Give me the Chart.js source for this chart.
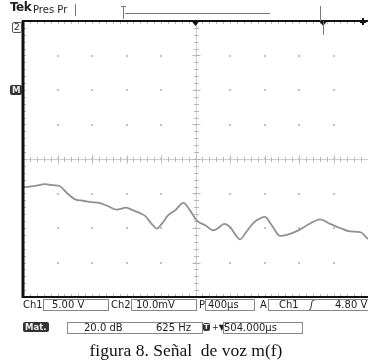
<!DOCTYPE html>
<html>
<head>
<meta charset="utf-8">
<script src="https://cdn.jsdelivr.net/npm/chart.js@4.4.0/dist/chart.umd.min.js"></script>
<style>
    html, body { margin: 0; padding: 0; background: #fff; }
    #wrap { position: relative; width: 368px; height: 362px; overflow: hidden;
            font-family: 'DejaVu Sans', sans-serif; color: #1e1e1e; }
    #scope { position: absolute; left: 0; top: 0; }
    .lbl { position: absolute; font-size: 10px; line-height: 11px; white-space: nowrap; }
    .box { position: absolute; border: 1px solid #888; height: 10px; }
    .dark { position: absolute; background: #333; color: #eee; font-size: 8.5px; font-weight: bold;
            line-height: 10px; padding: 0 2px; border-radius: 2px; }
    #caption { position: absolute; left: 0; width: 372px; top: 340px; text-align: center;
               font-family: 'Liberation Serif', serif; font-size: 17.5px; color: #111; }
</style>
</head>
<body>
<div id="wrap">
    <canvas id="scope" width="368" height="362"></canvas>

    <!-- header -->
    <div class="lbl" style="left:10px; top:2px; font-weight:bold; font-size:12px; letter-spacing:-0.5px;">Tek</div>
    <div class="lbl" style="left:33px; top:4px;">Pres Pr</div>
    <div class="lbl" style="left:12px; top:22px; font-size:9px; border:1px solid #555; border-radius:2px; padding:0 1px; line-height:9px;">2</div>
    <div class="dark" style="left:10px; top:85px;">M</div>

    <!-- status row 1 -->
    <div class="lbl" style="left:23px; top:299px;">Ch1</div>
    <div class="box" style="left:43px; top:299px; width:64px;"></div>
    <div class="lbl" style="left:52px; top:299px;">5.00 V</div>
    <div class="lbl" style="left:111px; top:299px;">Ch2</div>
    <div class="box" style="left:131px; top:299px; width:64px;"></div>
    <div class="lbl" style="left:136px; top:299px;">10.0mV</div>
    <div class="lbl" style="left:199px; top:299px;">P</div>
    <div class="box" style="left:205px; top:299px; width:48px;"></div>
    <div class="lbl" style="left:208px; top:299px;">400µs</div>
    <div class="lbl" style="left:260px; top:299px;">A</div>
    <div class="box" style="left:268px; top:299px; width:110px;"></div>
    <div class="lbl" style="left:279px; top:299px;">Ch1</div>
    <div class="lbl" style="left:310px; top:299px; font-style:italic;">&#x0283;</div>
    <div class="lbl" style="left:335px; top:299px;">4.80 V</div>

    <!-- status row 2 -->
    <div class="dark" style="left:23px; top:322px;">Mat.</div>
    <div class="box" style="left:67px; top:322px; width:134px;"></div>
    <div class="lbl" style="left:84px; top:322px;">20.0 dB</div>
    <div class="lbl" style="left:156px; top:322px;">625 Hz</div>
    <div class="dark" style="left:203px; top:323px; font-size:7px; line-height:8px; padding:0 1px;">T</div>
    <div class="lbl" style="left:212px; top:322px; font-size:8px;">+&#x25BC;</div>
    <div class="box" style="left:223px; top:322px; width:78px;"></div>
    <div class="lbl" style="left:224px; top:322px;">504.000µs</div>

    <div id="caption">figura 8. Señal&nbsp; de voz m(f)</div>
</div>

<script>
// Signal trace, in screen divisions (10 horizontal, 8 vertical)
const signalTime = [0, 0.35, 0.64, 0.88, 1.07, 1.27, 1.51, 1.75, 1.99, 2.23, 2.47, 2.72, 2.99, 3.20,
    3.39, 3.54, 3.73, 3.88, 4.02, 4.21, 4.41, 4.65, 4.84, 5.03, 5.28, 5.52, 5.66, 5.83, 6.00,
    6.14, 6.29, 6.48, 6.68, 6.82, 7.01, 7.21, 7.45, 7.74, 7.98, 8.27, 8.61, 8.90, 9.19, 9.48,
    9.77, 10.0];
const signalLevel = [-0.82, -0.78, -0.73, -0.76, -0.79, -0.98, -1.17, -1.21, -1.25, -1.28, -1.37, -1.47, -1.41, -1.49,
    -1.57, -1.65, -1.88, -2.02, -1.88, -1.63, -1.49, -1.27, -1.49, -1.78, -1.92, -2.07, -2.00, -1.88, -1.97,
    -2.17, -2.33, -2.10, -1.85, -1.75, -1.68, -1.92, -2.23, -2.17, -2.07, -1.90, -1.75, -1.88, -2.00, -2.10,
    -2.12, -2.32];

// graticule: 10 x 8 divisions, 5 minor ticks per division
const xDivisions = [0, 1, 2, 3, 4, 5, 6, 7, 8, 9, 10];
const yDivisions = [-4, -3, -2, -1, 0, 1, 2, 3, 4];

const graticule = {
    id: 'graticule',
    beforeDatasetsDraw(chart) {
        const { ctx, chartArea: a, scales: { x, y } } = chart;
        const cx = Math.round(x.getPixelForValue(5)) + 0.5;
        const cy = Math.round(y.getPixelForValue(0)) + 0.5;
        ctx.save();

        // dots at division crossings
        ctx.fillStyle = '#c2c2c2';
        xDivisions.slice(1, -1).forEach(i => {
            yDivisions.slice(1, -1).forEach(j => {
                ctx.fillRect(Math.round(x.getPixelForValue(i)) - 1, Math.round(y.getPixelForValue(j)) - 1, 2, 2);
            });
        });

        // center cross
        ctx.strokeStyle = '#cfcfcf';
        ctx.lineWidth = 1;
        ctx.beginPath();
        ctx.moveTo(a.left, cy); ctx.lineTo(a.right, cy);
        ctx.moveTo(cx, a.top); ctx.lineTo(cx, a.bottom);
        ctx.stroke();

        // minor ticks
        ctx.strokeStyle = '#b8b8b8';
        ctx.beginPath();
        for (let v = 0; v <= 10.001; v += 0.2) {
            const px = Math.round(x.getPixelForValue(v)) + 0.5;
            const len = Math.abs(v - Math.round(v)) < 0.01 ? 4 : 2.5;
            ctx.moveTo(px, cy - len); ctx.lineTo(px, cy + len);
            ctx.moveTo(px, a.bottom); ctx.lineTo(px, a.bottom - 3);
            ctx.moveTo(px, a.top); ctx.lineTo(px, a.top + 3);
        }
        for (let v = -4; v <= 4.001; v += 0.2) {
            const py = Math.round(y.getPixelForValue(v)) + 0.5;
            const len = Math.abs(v - Math.round(v)) < 0.01 ? 4 : 2.5;
            ctx.moveTo(cx - len, py); ctx.lineTo(cx + len, py);
            ctx.moveTo(a.left, py); ctx.lineTo(a.left + 3, py);
        }
        ctx.stroke();
        ctx.restore();
    },
    afterDraw(chart) {
        const { ctx, chartArea: a, scales: { x } } = chart;
        ctx.save();

        // frame
        ctx.strokeStyle = '#111';
        ctx.lineWidth = 2;
        ctx.beginPath();
        ctx.moveTo(a.right, a.top); ctx.lineTo(a.left, a.top);
        ctx.lineTo(a.left, a.bottom); ctx.lineTo(a.right, a.bottom);
        ctx.stroke();
        ctx.lineWidth = 3;
        ctx.beginPath();
        ctx.moveTo(a.left, a.top); ctx.lineTo(a.left, a.bottom + 1);
        ctx.stroke();

        // markers on the top edge
        ctx.fillStyle = '#111';
        [x.getPixelForValue(5), x.getPixelForValue(8.7)].forEach(px => {
            ctx.beginPath();
            ctx.moveTo(px - 4, a.top); ctx.lineTo(px + 4, a.top); ctx.lineTo(px, a.top + 5);
            ctx.fill();
        });
        ctx.fillRect(a.right - 8, a.top - 1, 6, 3);
        ctx.fillRect(a.right - 6, a.top - 3, 2, 7);

        ctx.strokeStyle = '#777';
        ctx.lineWidth = 1;
        ctx.beginPath();
        const tm = Math.round(x.getPixelForValue(8.7)) + 0.5;
        ctx.moveTo(tm, a.top); ctx.lineTo(tm, a.top + 14);
        ctx.moveTo(tm - 3, 6); ctx.lineTo(tm - 3, a.top);
        // record length bar
        ctx.moveTo(125, 13.5); ctx.lineTo(270, 13.5);
        ctx.moveTo(123.5, 6); ctx.lineTo(123.5, 19);
        ctx.moveTo(121, 6.5); ctx.lineTo(126, 6.5);
        ctx.moveTo(75.5, 4); ctx.lineTo(75.5, 16);
        ctx.stroke();

        // ground reference arrow
        ctx.fillStyle = '#333';
        ctx.beginPath();
        ctx.moveTo(20, 87); ctx.lineTo(23, 90); ctx.lineTo(20, 93);
        ctx.fill();
        ctx.restore();
    }
};

document.addEventListener('DOMContentLoaded', () => {
    initScope();
});

function initScope() {
    const ctx = document.getElementById('scope').getContext('2d');

    new Chart(ctx, {
        type: 'line',
        data: {
            datasets: [{
                label: 'Señal de voz',
                data: signalTime.map((t, i) => ({ x: t, y: signalLevel[i] })),
                borderColor: '#909090',
                borderWidth: 1.8,
                pointRadius: 0,
                fill: false,
                tension: 0.4,
                cubicInterpolationMode: 'monotone'
            }]
        },
        options: {
            responsive: false,
            animation: false,
            devicePixelRatio: 1,
            layout: { padding: { left: 23, top: 21, right: 0, bottom: 65 } },
            plugins: {
                legend: { display: false },
                tooltip: { enabled: false }
            },
            scales: {
                x: { type: 'linear', min: 0, max: 10, display: false },
                y: { type: 'linear', min: -4, max: 4, display: false }
            }
        },
        plugins: [graticule]
    });
}
</script>
</body>
</html>
